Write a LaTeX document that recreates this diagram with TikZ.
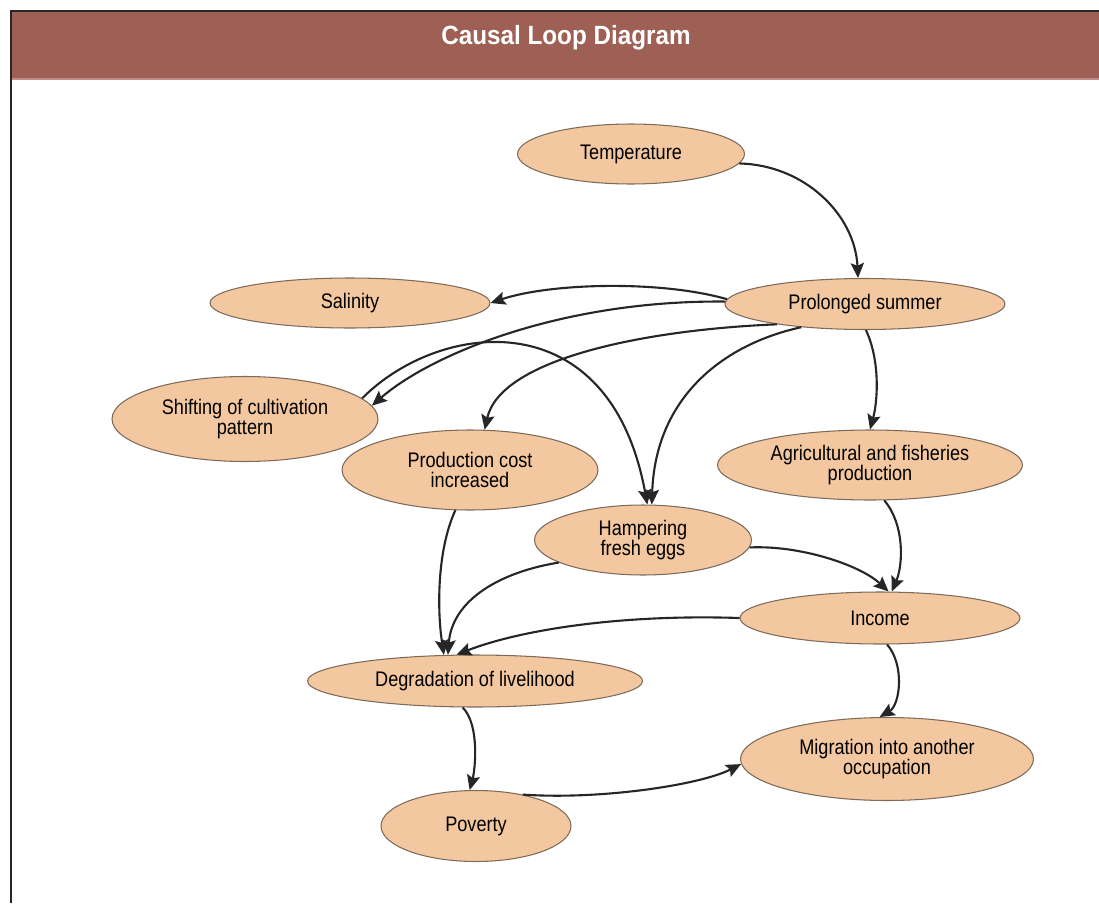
\documentclass[tikz,border=0pt]{standalone}
\usepackage{fontspec}
\setmainfont{Liberation Sans}[FakeStretch=0.86]
\newfontfamily\titlefont{Liberation Sans}[FakeStretch=0.92]
\usetikzlibrary{arrows.meta,shapes.geometric}
\definecolor{barbrown}{HTML}{9E5F54}
\definecolor{barline}{HTML}{C48C84}
\definecolor{peach}{HTML}{F3C8A0}
\definecolor{rimbrown}{HTML}{7D6A58}
\definecolor{linkgray}{HTML}{262626}

\begin{document}
\begin{tikzpicture}[
    x=0.02cm, y=-0.02cm,
    font=\fontsize{12}{11.2}\selectfont,
    var/.style={ellipse, draw=rimbrown, line width=.6pt, fill=peach, inner sep=0pt, align=center},
    arrow/.style={-{Stealth[length=8.5pt,width=7.5pt,inset=1.5pt]}, line width=1.2pt, draw=linkgray}
  ]
    \useasboundingbox (0,0) rectangle (1099,903);
    \fill[barbrown] (11,11) rectangle (1099,79);
    \draw[barline, line width=.8pt] (12,79) -- (1099,79);
    \draw[black!85, line width=1.7pt] (11,903) -- (11,11) -- (1099,11);
    \node[text=white, font={\titlefont\bfseries\fontsize{15}{15}\selectfont}] (title) at (566,38) {Causal Loop Diagram};

    \node[var, minimum width=4.54cm, minimum height=1.2cm] (temp) at (631,154) {Temperature};
    \node[var, minimum width=5.6cm, minimum height=1.02cm] (summer) at (865,304) {Prolonged summer};
    \node[var, minimum width=5.6cm, minimum height=1.0cm] (salin) at (350,303) {Salinity};
    \node[var, minimum width=5.32cm, minimum height=1.7cm] (shift) at (245,419) {Shifting of cultivation\\pattern};
    \node[var, minimum width=5.12cm, minimum height=1.6cm] (cost) at (470,470) {Production cost\\increased};
    \node[var, minimum width=6.1cm, minimum height=1.4cm] (agri) at (870,465) {Agricultural and fisheries\\production};
    \node[var, minimum width=4.34cm, minimum height=1.4cm] (hamper) at (643,540) {Hampering\\fresh eggs};
    \node[var, minimum width=5.6cm, minimum height=1.04cm] (income) at (880,618) {Income};
    \node[var, minimum width=6.7cm, minimum height=1.04cm] (degrad) at (475,681) {Degradation of livelihood};
    \node[var, minimum width=5.86cm, minimum height=1.66cm] (migrate) at (887,759) {Migration into another\\occupation};
    \node[var, minimum width=3.8cm, minimum height=1.42cm] (poverty) at (476,826) {Poverty};

    \draw[arrow] (temp.-5) .. controls (805,165) and (855,215) .. (summer.105);
    \draw[arrow] (summer.178) .. controls (660,280) and (550,283) .. (salin.east);
    \draw[arrow] (summer.179) .. controls (560,300) and (430,355) .. (shift.6);
    \draw[arrow] (shift.10) .. controls (440,320) and (610,300) .. (hamper.83);
    \draw[arrow] (summer.193) .. controls (640,330) and (500,360) .. (cost.70);
    \draw[arrow] (summer.200) .. controls (720,345) and (655,400) .. (hamper.76);
    \draw[arrow] (summer.-88) .. controls (880,360) and (878,400) .. (agri.north);
    \draw[arrow] (cost.-110) .. controls (437,550) and (437,610) .. (degrad.140);
    \draw[arrow] (hamper.195) .. controls (500,572) and (452,600) .. (degrad.136);
    \draw[arrow] (income.west) .. controls (620,614) and (520,630) .. (degrad.125);
    \draw[arrow] (hamper.-4) .. controls (800,545) and (860,565) .. (income.72);
    \draw[arrow] (agri.-68) .. controls (905,525) and (903,565) .. (income.66);
    \draw[arrow] (income.-75) .. controls (905,665) and (900,705) .. (migrate.100);
    \draw[arrow] (degrad.-115) .. controls (480,725) and (475,770) .. (poverty.100);
    \draw[arrow] (poverty.34) .. controls (600,800) and (700,785) .. (migrate.182);
  \end{tikzpicture}
\end{document}
